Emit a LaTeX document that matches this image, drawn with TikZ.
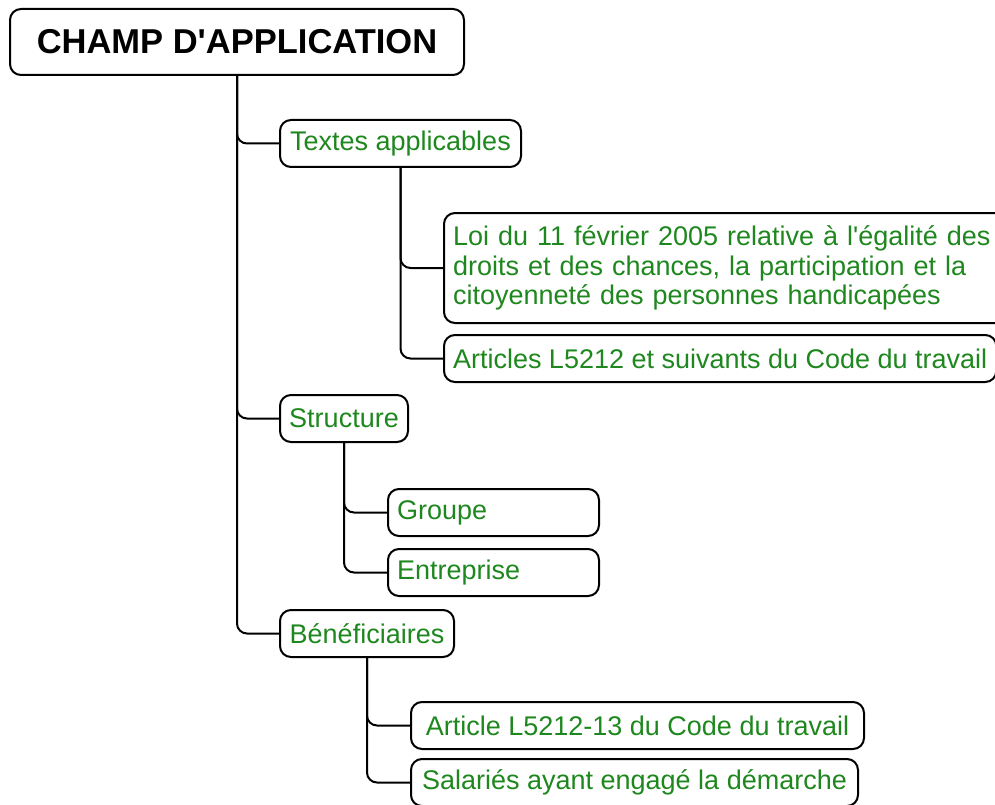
\documentclass[tikz,border=0pt]{standalone}
\usepackage{fontspec}
\setmainfont{Liberation Sans}
\usepackage{tikz}
\usetikzlibrary{calc}
\definecolor{vert}{RGB}{30,135,30}

\begin{document}
\begin{tikzpicture}[x=1pt, y=-1pt,
    boite/.style={draw, line width=2pt, rounded corners=11pt, anchor=north west,
        inner xsep=9pt, inner ysep=0pt, minimum height=47pt, text=vert,
        font=\fontsize{27}{29.5}\selectfont},
    lien/.style={line width=2pt, rounded corners=10pt}]
    \useasboundingbox (0,0) rectangle (995,805);

    % --- 宏：从父节点底部连到子节点左侧 ---
    \newcommand{\relier}[2]{
        \draw[lien] (#1.south) |- (#2.west);
    }

    % --- 根节点 ---
    \node[boite, text=black, minimum width=454pt, minimum height=66pt,
        font=\fontsize{34.5}{38}\selectfont\bfseries] (champ) at (9,8) {CHAMP D\textquotesingle APPLICATION};

    % --- 第一层 ---
    \node[boite, minimum width=241pt] (textes) at (279,119) {Textes applicables};
    \node[boite, minimum width=128pt] (structure) at (279,394) {Structure};
    \node[boite, minimum width=174pt] (benef) at (279,609) {Bénéficiaires};

    % --- 第二层：文本 ---
    \node[boite, text width=545pt, align=left, minimum height=110pt] (loi) at (443,212)
        {Loi du 11 février 2005 relative à l\textquotesingle égalité des\\
         droits et des chances, la participation et la\\
         citoyenneté des personnes handicapées};
    \node[boite] (articles) at (443,334) {Articles L5212 et suivants du Code du travail};

    % --- 第二层：结构 ---
    \node[boite, text width=193pt, align=left] (groupe) at (387,488) {Groupe};
    \node[boite, text width=193pt, align=left] (entreprise) at (387,548) {Entreprise};

    % --- 第二层：受益人 ---
    \node[boite, minimum width=453pt] (art13) at (410,701) {Article L5212-13 du Code du travail};
    \node[boite, minimum width=447pt] (salaries) at (410,758) {Salariés ayant engagé la démarche};

    % --- 连线 ---
    \relier{champ}{textes}
    \relier{champ}{structure}
    \relier{champ}{benef}
    \relier{textes}{loi}
    \relier{textes}{articles}
    \relier{structure}{groupe}
    \relier{structure}{entreprise}
    \relier{benef}{art13}
    \relier{benef}{salaries}
\end{tikzpicture}
\end{document}
